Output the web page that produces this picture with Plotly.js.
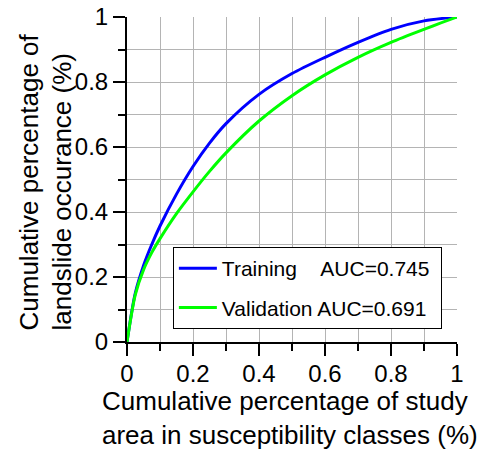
<!DOCTYPE html>
<html>
<head>
<meta charset="utf-8">
<script src="https://cdn.plot.ly/plotly-3.0.1.min.js"></script>
<style>html,body{margin:0;padding:0;background:#fff;}#chart{width:498px;height:450px;}</style>
</head>
<body>
<div id="chart"></div>
<script>
const trainX = [0, 0.025, 0.05, 0.075, 0.1, 0.15, 0.2, 0.25, 0.3, 0.4, 0.5, 0.6, 0.7, 0.8, 0.9, 1];
const trainY = [0, 0.15, 0.235, 0.3, 0.357, 0.455, 0.54, 0.612, 0.672, 0.762, 0.826, 0.876, 0.922, 0.962, 0.988, 1];
const validX = [0, 0.025, 0.05, 0.075, 0.1, 0.15, 0.2, 0.25, 0.3, 0.4, 0.5, 0.6, 0.7, 0.8, 0.9, 1];
const validY = [0, 0.145, 0.222, 0.275, 0.318, 0.395, 0.462, 0.525, 0.582, 0.68, 0.758, 0.822, 0.876, 0.922, 0.962, 1];
const names = ["Training\u00A0\u00A0\u00A0\u00A0AUC=0.745\u00A0", "Validation AUC=0.691\u00A0"];
const tickVals = [0, 0.2, 0.4, 0.6, 0.8, 1];
const tickText = ["0", "0.2", "0.4", "0.6", "0.8", "1"];
const xTitle = "Cumulative percentage of study<br>area in susceptibility classes (%)";
const yTitle = "Cumulative percentage of<br>landslide occurance (%)";

const FONT = "Liberation Sans, Arial, sans-serif";
const traces = [
  {x: trainX, y: trainY, name: names[0], mode: "lines", line: {color: "#0000ff", width: 3, shape: "spline", smoothing: 0.8}, legendgroup: "a"},
  {x: validX, y: validY, name: names[1], mode: "lines", line: {color: "#00ff00", width: 3, shape: "spline", smoothing: 0.8}, legendgroup: "b"}
];
function axis() {
  return {
    range: [0, 1], tickvals: tickVals, ticktext: tickText,
    showline: true, linecolor: "#000", linewidth: 2,
    ticks: "outside", ticklen: 12, tickwidth: 2, tickcolor: "#000",
    showgrid: true, gridcolor: "#b4b4b4", gridwidth: 1, zeroline: false,
    minor: {dtick: 0.1, ticks: "outside", ticklen: 7, tickwidth: 2, tickcolor: "#000", showgrid: true, gridcolor: "#b4b4b4", gridwidth: 1},
    tickfont: {family: FONT, size: 24, color: "#000"},
    fixedrange: true
  };
}
const layout = {
  width: 498, height: 450,
  margin: {l: 127, r: 41, t: 17, b: 108},
  paper_bgcolor: "#fff", plot_bgcolor: "#fff",
  xaxis: axis(),
  yaxis: axis(),
  showlegend: true,
  legend: {x: 0.139, y: 0.292, xanchor: "left", yanchor: "top", bgcolor: "#fff", bordercolor: "#000", borderwidth: 1,
           font: {family: FONT, size: 21, color: "#000"}, tracegroupgap: 9, itemwidth: 38},
  font: {family: FONT},
  annotations: [
    {text: xTitle, xref: "paper", yref: "paper", x: -0.0818, y: 0, xanchor: "left", yanchor: "top", yshift: -42,
     align: "left", showarrow: false, font: {family: FONT, size: 26, color: "#000"}},
    {text: yTitle, xref: "paper", yref: "paper", x: 0, y: 0, xanchor: "right", yanchor: "bottom", xshift: -48, yshift: 9,
     textangle: -90, align: "left", showarrow: false, font: {family: FONT, size: 26, color: "#000"}}
  ]
};
layout.xaxis.ticklabelstandoff = -3;
Plotly.newPlot("chart", traces, layout, {displayModeBar: false, staticPlot: true});
</script>
</body>
</html>
